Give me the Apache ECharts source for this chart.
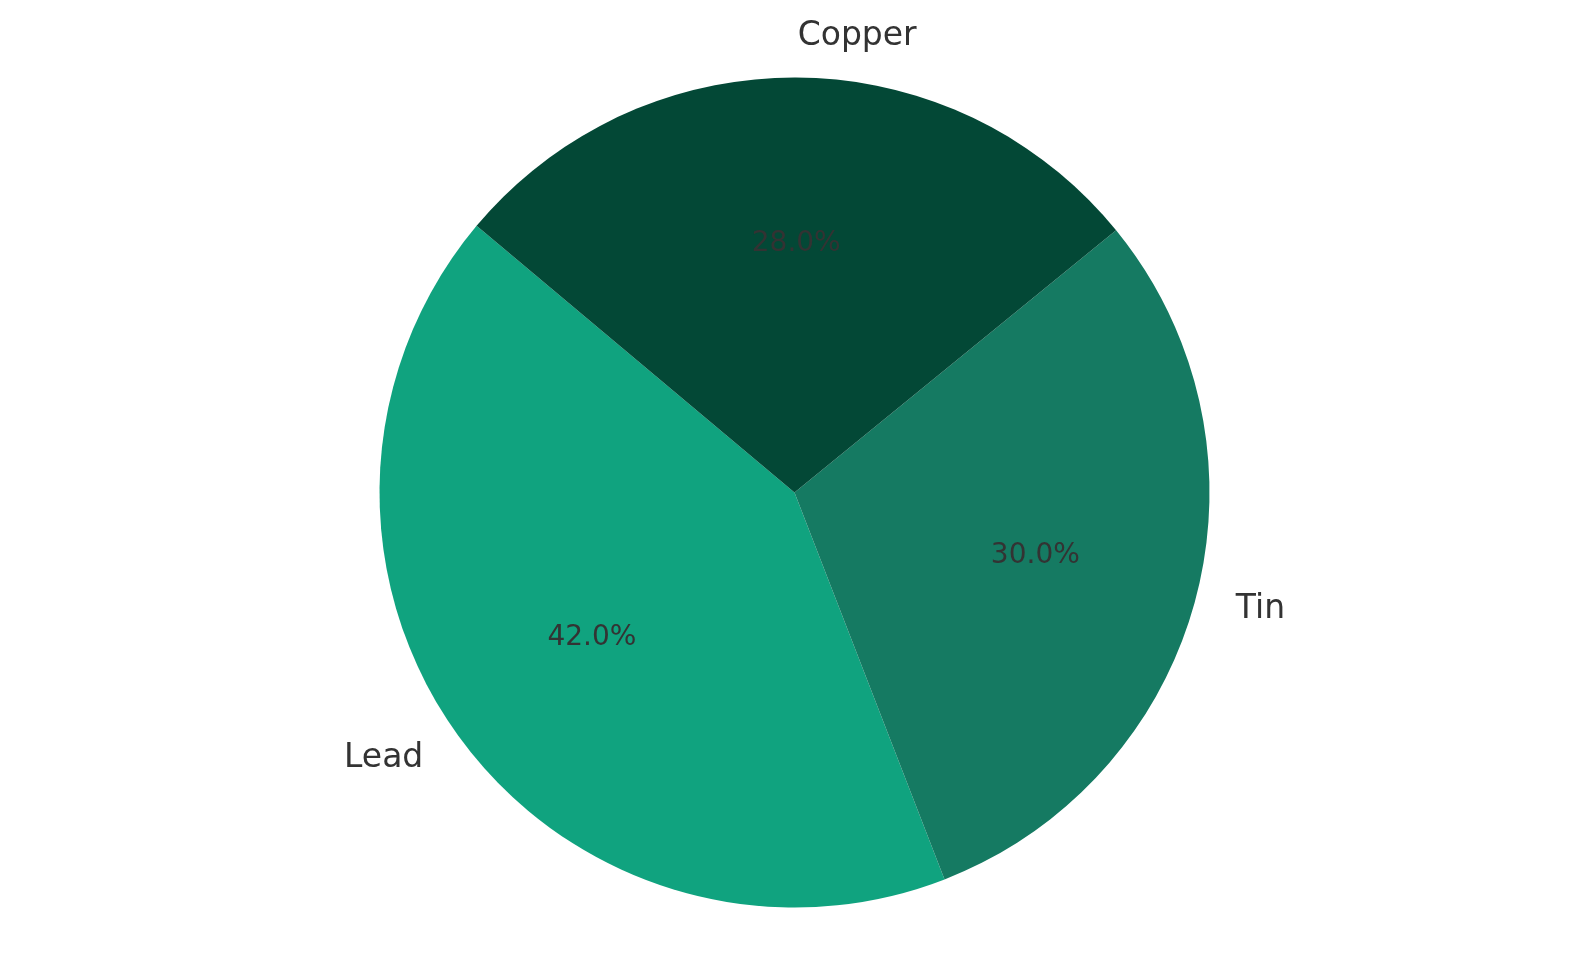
<!DOCTYPE html>
<html>
<head>
<meta charset="utf-8">
<script src="https://cdn.jsdelivr.net/npm/echarts@6/dist/echarts.min.js"></script>
<style>
html,body{margin:0;padding:0;background:#fff;}
#chart{width:1589px;height:979px;}
</style>
</head>
<body>
<div id="chart"></div>
<script>
const categories = ['Lead', 'Tin', 'Copper'];
const values = [42, 30, 28];
const colors = ['#10a37f', '#157a62', '#034836'];

const R = 415;
const center = [794.5, 492.5];
const font = 'DejaVu Sans';

const chart = echarts.init(document.getElementById('chart'));
const dataMain = categories.map((c, i) => ({ name: c, value: values[i], itemStyle: { color: colors[i] } }));
const dataPct = categories.map((c, i) => ({ name: c, value: values[i] }));

chart.setOption({
  animation: false,
  series: [
    {
      type: 'pie',
      center: center,
      radius: [0, R],
      startAngle: 140,
      clockwise: false,
      avoidLabelOverlap: false,
      silent: true,
      data: dataMain,
      label: {
        show: true,
        position: 'outside',
        formatter: '{b}',
        color: '#333333',
        fontFamily: font,
        fontSize: 33,
        padding: [6, 0, 0, 0],
        distanceToLabelLine: 0
      },
      labelLine: { show: false, length: R * 0.1, length2: 0 },
      itemStyle: { borderWidth: 0 }
    },
    {
      type: 'pie',
      center: center,
      radius: [0, R * 1.186],
      startAngle: 140,
      clockwise: false,
      avoidLabelOverlap: false,
      silent: true,
      z: 5,
      data: dataPct,
      itemStyle: { color: 'rgba(0,0,0,0)', borderWidth: 0 },
      label: {
        show: true,
        position: 'inside',
        formatter: p => p.percent.toFixed(1) + '%',
        color: '#333333',
        fontFamily: font,
        fontSize: 28,
        padding: [4, 0, 0, 0]
      },
      labelLine: { show: false }
    }
  ]
});
</script>
</body>
</html>
